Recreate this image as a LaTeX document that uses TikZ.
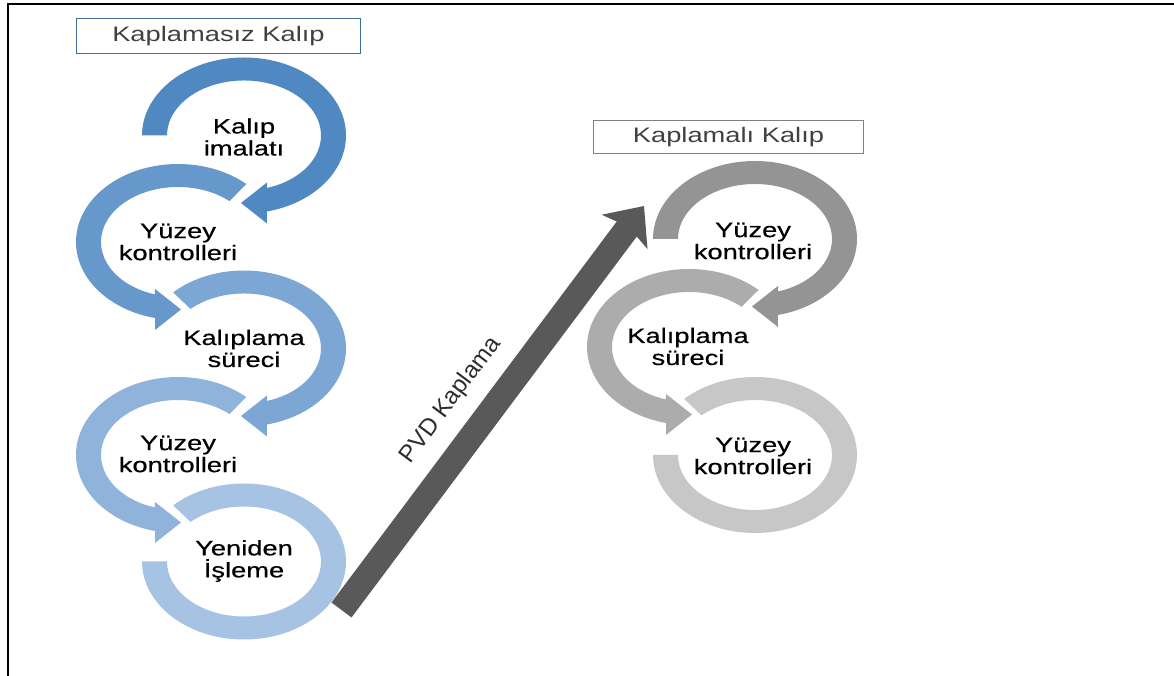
\documentclass[tikz,border=0pt]{standalone}
\usepackage{fontspec}
\setmainfont{Liberation Sans}
\newfontfamily\lblfont[FakeBold=0.35]{Liberation Sans}
\usetikzlibrary{arrows.meta}
\definecolor{blueA}{HTML}{5088C1}
\definecolor{blueB}{HTML}{6698CB}
\definecolor{blueC}{HTML}{7CA6D4}
\definecolor{blueD}{HTML}{90B3DB}
\definecolor{blueE}{HTML}{A7C3E4}
\definecolor{grayA}{HTML}{949494}
\definecolor{grayB}{HTML}{ACACAC}
\definecolor{grayC}{HTML}{C7C7C7}
\definecolor{arrowgray}{HTML}{595959}
\definecolor{titletext}{HTML}{404040}
\definecolor{boxblue}{HTML}{41709C}
\definecolor{boxgray}{HTML}{808080}
% ring going clockwise (visually) with arrowhead pointing left at bottom
\newcommand{\RingCW}[3]{%
  \begin{scope}[shift={(#1)}]
    \fill[#3] (#2:102 and 78) arc[start angle=#2, end angle=-77, x radius=102, y radius=78]
      -- (23,-88) -- (-3,-67.5) -- (23,-47) -- (-72.6:77 and 55)
      arc[start angle=-72.6, end angle=#2, x radius=77, y radius=55] -- cycle;
  \end{scope}}
% ring going counter-clockwise (visually) with arrowhead pointing right at bottom
\newcommand{\RingCCW}[3]{%
  \begin{scope}[shift={(#1)}]
    \fill[#3] (#2:102 and 78) arc[start angle=#2, end angle=257, x radius=102, y radius=78]
      -- (-23,-88) -- (3,-67.5) -- (-23,-47) -- (252.6:77 and 55)
      arc[start angle=252.6, end angle=#2, x radius=77, y radius=55] -- cycle;
  \end{scope}}
% final ring without arrowhead
\newcommand{\RingEnd}[2]{%
  \begin{scope}[shift={(#1)}]
    \fill[#2] (134:102 and 78) arc[start angle=134, end angle=-180, x radius=102, y radius=78]
      -- (-180:77 and 55)
      arc[start angle=-180, end angle=134, x radius=77, y radius=55] -- cycle;
  \end{scope}}
\begin{document}
\begin{tikzpicture}[x=1pt,y=1pt,
  lbl/.style={font=\lblfont\fontsize{21}{22}\selectfont, align=center, xscale=1.3, inner sep=0pt, text=black},
  titlebox/.style={draw, line width=1pt, font=\fontsize{21}{24}\selectfont, text=titletext, xscale=1.3, inner sep=0pt},
  bigarrow/.style={line width=25pt, draw=arrowgray, -{Stealth[length=32pt, width=56pt, inset=6pt]}}]
\useasboundingbox (0,0) rectangle (1174,676);
% frame
\draw[line width=2pt] (8,0) -- (8,672) -- (1174,672);

% title boxes
\node[titlebox, draw=boxblue, minimum width=219pt, minimum height=35pt] (t1) at (218.5,639.5) {Kaplamasız Kalıp};
\node[titlebox, draw=boxgray, minimum width=207pt, minimum height=33pt] (t2) at (728.5,538.5) {Kaplamalı Kalıp};

% left column (uncoated)
\RingCW{244,540.5}{180}{blueA}
\RingCCW{178,434}{48}{blueB}
\RingCW{244,327.5}{134}{blueC}
\RingCCW{178,221}{48}{blueD}
\RingEnd{244,114.5}{blueE}

\node[lbl] (l1) at (244,539) {Kalıp\\imalatı};
\node[lbl] (l2) at (178,434) {Yüzey\\kontrolleri};
\node[lbl] (l3) at (244,327.5) {Kalıplama\\süreci};
\node[lbl] (l4) at (178,222) {Yüzey\\kontrolleri};
\node[lbl] (l5) at (244,115) {Yeniden\\İşleme};

% right column (coated)
\RingCW{755,437}{180}{grayA}
\RingCCW{689,329}{47}{grayB}
\RingEnd{755,221}{grayC}

\node[lbl] (r1) at (753,435) {Yüzey\\kontrolleri};
\node[lbl] (r2) at (688,329.5) {Kalıplama\\süreci};
\node[lbl] (r3) at (753,220) {Yüzey\\kontrolleri};

% PVD arrow
\coordinate (pvdS) at (341.5,66);
\coordinate (pvdE) at (644,470);
\draw[bigarrow] (pvdS) -- (pvdE);
\node[rotate=53.3, font=\fontsize{24}{26}\selectfont, text=titletext!70!black, inner sep=0pt] (pvd) at (451,276) {PVD Kaplama};
\end{tikzpicture}
\end{document}
